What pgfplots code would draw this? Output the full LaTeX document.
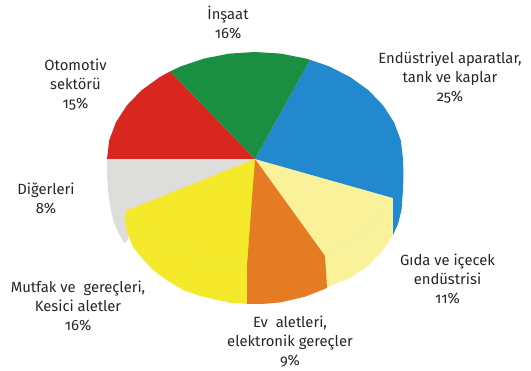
\documentclass[border=0pt]{standalone}
\usepackage{pgfplots}
\pgfplotsset{compat=1.18}
\usepackage{fontspec}
\setmainfont[Numbers=OldStyle]{Fira Sans}
\definecolor{cRed}{HTML}{D9271F}
\definecolor{cGreen}{HTML}{1B8F41}
\definecolor{cBlue}{HTML}{2389CE}
\definecolor{cCream}{HTML}{F9F29B}
\definecolor{cCreamEdge}{HTML}{EEF0A8}
\definecolor{cOrange}{HTML}{E57B22}
\definecolor{cYellow}{HTML}{F5E92C}
\definecolor{cYellowEdge}{HTML}{EFE84A}
\definecolor{cGrey}{HTML}{DDDEDC}
\newcommand{\pielabel}[3]{\node[align=center,font=\fontsize{14.8}{19}\selectfont,text=black!85] at (axis cs:#1,#2) {#3};}
\begin{document}
\begin{tikzpicture}
\begin{axis}[
  scale only axis, width=531pt, height=371pt,
  xmin=0, xmax=531, ymin=0, ymax=371, y dir=reverse,
  hide axis, clip=false,
]
\path (axis cs:0,0) rectangle (axis cs:531,371);
% Other (8%): top face and side wall
\addplot[fill=cGrey, draw=none] coordinates {
  (255,159) (107,159) (107,175) (108,190) (110,205) (113,220) (118,232) (124,243) (128,240) (128,211)
} -- cycle;
% Kitchen goods and cutlery (16%)
\addplot[fill=cYellow, draw=none] coordinates {
  (255,159) (125.6,211) (125,222) (127,232) (133,247) (142,258) (153,270) (168,281) (183,290) (200,296) (217,300) (232,303) (250,304) (250,266)
} -- cycle;
\addplot[cYellowEdge, line width=0.5pt] coordinates {
  (141.6,227.8) (160,241) (181,251.7) (204.4,259.5) (229.3,264.4) (247,266)
};
% Food and beverage industry (11%)
\addplot[fill=cCream, draw=none] coordinates {
  (255,159) (393,198) (393,235) (383,250.5) (368,266) (350,278) (320,290) (320,250)
} -- cycle;
\addplot[cCreamEdge, line width=0.5pt] coordinates {
  (329,252) (350,241) (368.4,228) (383.2,212.5)
};
% Industrial apparatus, tanks and vessels (25%)
\addplot[fill=cBlue, draw=none] coordinates {
  (255,159) (310,59.8) (329,66.3) (350.1,77) (368.4,90.2) (383.2,105.5) (394.1,122.4) (400.8,140.4) (403,159)
  (403.5,175) (403,190) (401.5,210) (398,224) (393,235) (393,198)
} -- cycle;
% Household appliances and electronics (9%)
\addplot[fill=cOrange, draw=none] coordinates {
  (255,159) (325,256) (327,288) (305.6,296.5) (280.7,302.4) (262,304) (247,304) (247,266)
} -- cycle;
% Automotive (15%)
\addplot[fill=cRed, draw=none] coordinates {
  (255,159) (107,159) (109.2,140.4) (115.9,122.4) (126.8,105.5) (141.6,90.2) (159.9,77) (170.1,71.4)
} -- cycle;
% Construction (16%)
\addplot[fill=cGreen, draw=none] coordinates {
  (255,159) (170.1,71.4) (181,66.3) (204.4,58.5) (229.3,53.6) (255,52) (280.7,53.6) (305.6,58.5) (310,59.8)
} -- cycle;
\pielabel{228}{22.5}{İnşaat\\16\%}
\pielabel{75.5}{84.5}{Otomotiv\\sektörü\\15\%}
\pielabel{450}{78}{Endüstriyel aparatlar,\\tank ve kaplar\\25\%}
\pielabel{46}{198.5}{Diğerleri\\8\%}
\pielabel{78}{306}{Mutfak ve\ \ gereçleri,\\Kesici aletler\\16\%}
\pielabel{290}{341.5}{Ev\ \ aletleri,\\elektronik gereçler\\9\%}
\pielabel{447.5}{279}{Gıda ve içecek\\endüstrisi\\11\%}
\end{axis}
\end{tikzpicture}
\end{document}
